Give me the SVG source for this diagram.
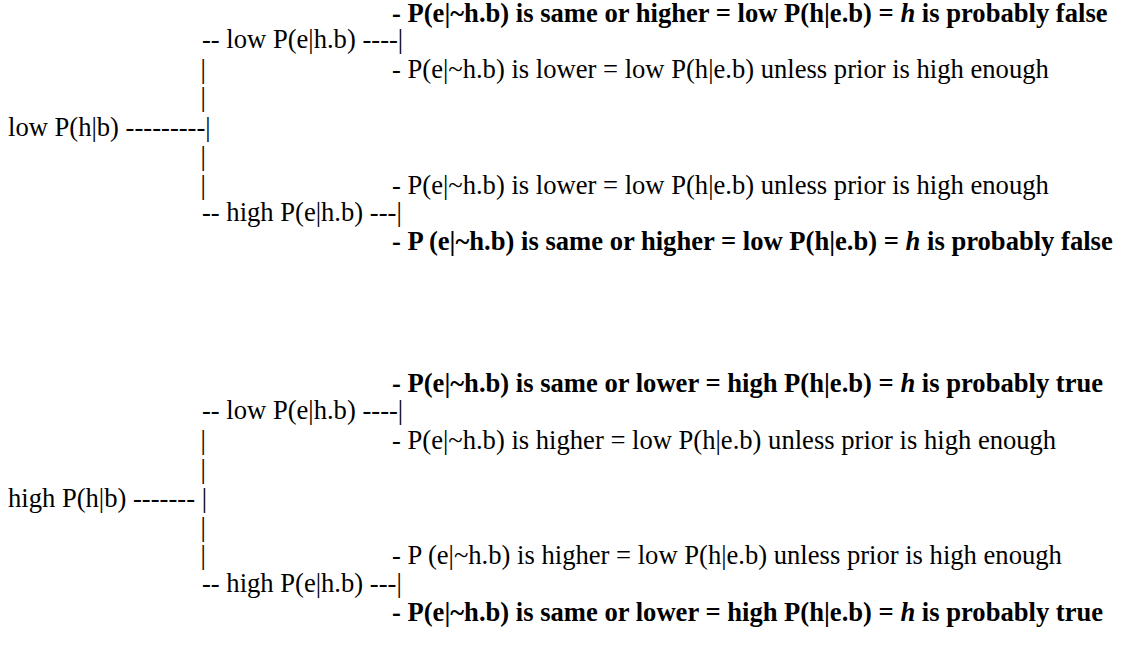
<svg xmlns="http://www.w3.org/2000/svg" width="1122" height="648" viewBox="0 0 1122 648">
<style>
.t{font-family:'Liberation Serif','Times New Roman',serif;font-size:26.6px;fill:#000}
.b{font-weight:bold}
.i{font-style:italic}
</style>
<rect width="1122" height="648" fill="#fff"/>
<g class="t">
<g id="connectors">
<text x="200.5" y="78">|</text>
<text x="200.5" y="106">|</text>
<text x="200.5" y="165">|</text>
<text x="200.5" y="194">|</text>
<text x="200.5" y="449">|</text>
<text x="200.5" y="478">|</text>
<text x="200.5" y="536">|</text>
<text x="200.5" y="564">|</text>
</g>
<g id="root-low"><text x="8" y="136">low P(h|b) ---------|</text></g>
<g id="low-low"><text x="202" y="48">-- low P(e|h.b) ----|</text></g>
<g id="low-high"><text x="202" y="221">-- high P(e|h.b) ---|</text></g>
<g id="leaf1"><text class="b" x="392" y="22">- P(e|~h.b) is same or higher = low P(h|e.b) = <tspan class="i">h</tspan> is probably false</text></g>
<g id="leaf2"><text x="392" y="78">- P(e|~h.b) is lower = low P(h|e.b) unless prior is high enough</text></g>
<g id="leaf3"><text x="392" y="194">- P(e|~h.b) is lower = low P(h|e.b) unless prior is high enough</text></g>
<g id="leaf4"><text class="b" x="392" y="250">- P (e|~h.b) is same or higher = low P(h|e.b) = <tspan class="i">h</tspan> is probably false</text></g>
<g id="root-high"><text x="8" y="507">high P(h|b) ------- |</text></g>
<g id="high-low"><text x="202" y="419">-- low P(e|h.b) ----|</text></g>
<g id="high-high"><text x="202" y="592">-- high P(e|h.b) ---|</text></g>
<g id="leaf5"><text class="b" x="392" y="392">- P(e|~h.b) is same or lower = high P(h|e.b) = <tspan class="i">h</tspan> is probably true</text></g>
<g id="leaf6"><text x="392" y="449">- P(e|~h.b) is higher = low P(h|e.b) unless prior is high enough</text></g>
<g id="leaf7"><text x="392" y="564">- P (e|~h.b) is higher = low P(h|e.b) unless prior is high enough</text></g>
<g id="leaf8"><text class="b" x="392" y="621">- P(e|~h.b) is same or lower = high P(h|e.b) = <tspan class="i">h</tspan> is probably true</text></g>
</g>
</svg>
